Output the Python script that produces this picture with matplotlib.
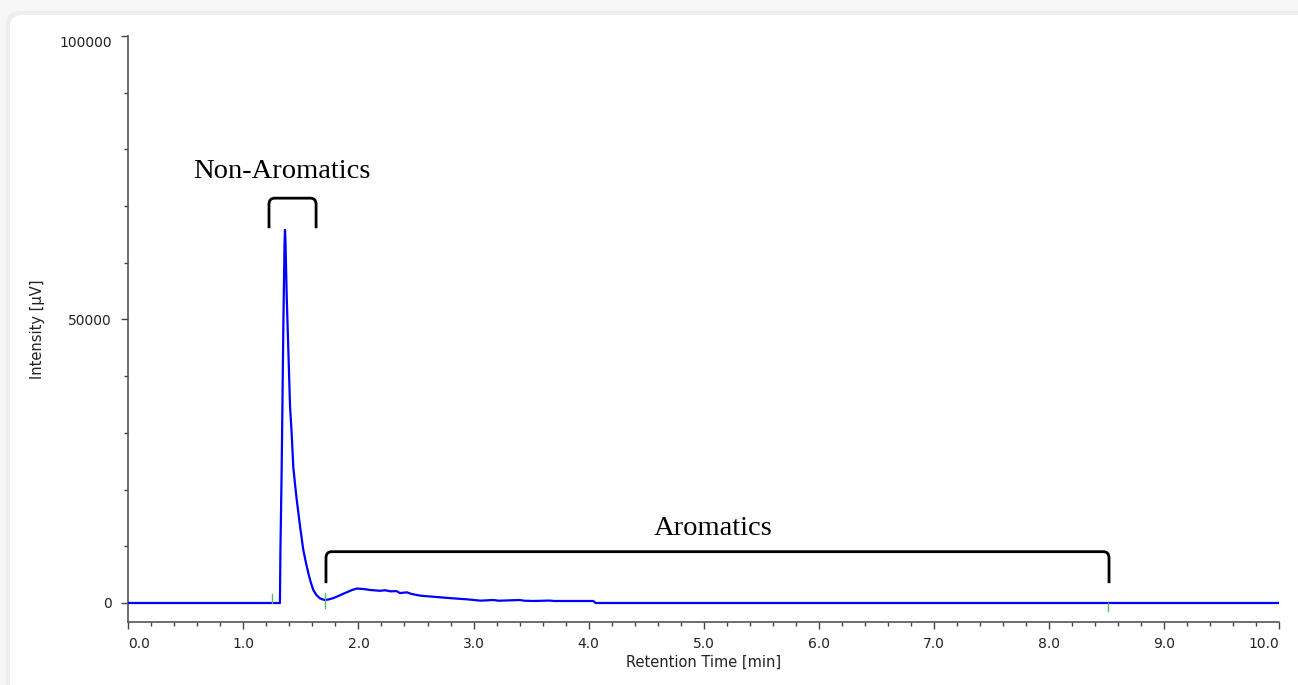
import matplotlib
matplotlib.use("Agg")
import matplotlib.pyplot as plt
from matplotlib.patches import FancyBboxPatch, PathPatch
from matplotlib.path import Path
import numpy as np

# ---------------- data ----------------
time_min = [0.0, 1.30, 1.318, 1.322, 1.333, 1.348, 1.358, 1.362, 1.366, 1.377,
            1.391, 1.406, 1.420, 1.434, 1.450, 1.464, 1.493, 1.521, 1.545,
            1.565, 1.585, 1.608, 1.635, 1.666, 1.690, 1.710, 1.740, 1.775,
            1.811, 1.860, 1.900, 1.940, 1.985, 2.05, 2.10, 2.188, 2.23, 2.28,
            2.33, 2.36, 2.42, 2.46, 2.535, 2.62, 2.71, 2.82, 2.94, 3.06,
            3.17, 3.22, 3.40, 3.44, 3.52, 3.66, 3.70, 3.81, 4.04, 4.06, 10.0]
intensity_uv = [0, 0, 0, 8800, 23400, 49300, 63500, 65800, 64000, 54000,
                44600, 34600, 29900, 24000, 20800, 18200, 13500, 9350, 7000,
                5240, 3700, 2290, 1400, 820, 620, 530, 620, 820,
                1100, 1550, 1900, 2250, 2550, 2450, 2300, 2150, 2250, 2050,
                2100, 1750, 1880, 1600, 1300, 1150, 1000, 820, 650, 410,
                530, 400, 530, 400, 350, 430, 350, 350, 350, 0, 0]

# integration markers (time, low, high)
marker_times = [1.25, 1.71, 8.51]
marker_low = [0, -900, -1400]
marker_high = [1600, 1760, 0]

# bracket annotations
bracket_labels = ["Non-Aromatics", "Aromatics"]
bracket_x_left = [1.223, 1.718]
bracket_x_right = [1.632, 8.52]
bracket_y_bottom = [66100, 3500]
bracket_y_top = [71400, 9050]
label_x = [1.332, 5.077]
label_y = [74900, 12000]

x_ticks = [0.0, 1.0, 2.0, 3.0, 4.0, 5.0, 6.0, 7.0, 8.0, 9.0, 10.0]
y_ticks = [0, 50000, 100000]

# ---------------- figure ----------------
W, H, DPI = 1298, 685, 100
fig = plt.figure(figsize=(W / DPI, H / DPI), dpi=DPI, facecolor="#f6f6f6")

# card with soft shadow
shadow = FancyBboxPatch((0.06, -0.5), 13.6, 7.24,
                        boxstyle="round,pad=0,rounding_size=0.14",
                        transform=fig.dpi_scale_trans, facecolor="#eeeeee",
                        edgecolor="none", zorder=0)
card = FancyBboxPatch((0.10, -0.5), 13.6, 7.2,
                      boxstyle="round,pad=0,rounding_size=0.12",
                      transform=fig.dpi_scale_trans, facecolor="white",
                      edgecolor="none", zorder=0)
fig.patches.extend([shadow, card])

left_px, right_px, top_px, bottom_px = 128.2, 1279.4, 36, 621.7
ax = fig.add_axes([left_px / W, (H - bottom_px) / H,
                   (right_px - left_px) / W, (bottom_px - top_px) / H])
ax.set_zorder(2)
ax.set_facecolor("none")

ax.plot(time_min, intensity_uv, color="#0000ff", lw=1.6, zorder=3,
        solid_joinstyle="round")

for t, lo, hi in zip(marker_times, marker_low, marker_high):
    ax.plot([t, t], [lo, hi], color="#5cb85c", lw=1.0, zorder=4)

ax.set_xlim(0, 10.0)
ax.set_ylim(-3300, 100000)

for s in ["top", "right"]:
    ax.spines[s].set_visible(False)
for s in ["left", "bottom"]:
    ax.spines[s].set_color("#555555")
    ax.spines[s].set_linewidth(1.2)

ax.set_xticks(x_ticks)
ax.set_xticklabels([f"{v:.1f}" for v in x_ticks])
ax.set_xticks(np.arange(0, 10.01, 0.2), minor=True)
ax.set_yticks(y_ticks)
ax.set_yticklabels([str(v) for v in y_ticks])
ax.set_yticks(np.arange(0, 100001, 10000), minor=True)

ax.tick_params(axis="both", which="major", length=4.8, width=1.0,
               color="#444444", labelsize=10, labelcolor="#222222")
ax.tick_params(axis="both", which="minor", length=2.6, width=1.0,
               color="#444444")
ax.tick_params(axis="x", which="major", pad=6)
ax.tick_params(axis="y", which="major", pad=7)

# shift end labels inward like the instrument software
xl = ax.get_xticklabels()
xl[0].set_horizontalalignment("left")
xl[-1].set_horizontalalignment("right")
yl = ax.get_yticklabels()
yl[-1].set_verticalalignment("top")

ax.set_xlabel("Retention Time [min]", fontsize=10.5, color="#222222", labelpad=3)
ax.set_ylabel("Intensity [µV]", fontsize=10.5, color="#222222", labelpad=10)

# brackets
rx, ry = 0.05, 1100
for lab, x0, x1, yb, yt, tx, ty in zip(bracket_labels, bracket_x_left,
                                       bracket_x_right, bracket_y_bottom,
                                       bracket_y_top, label_x, label_y):
    verts = [(x0, yb), (x0, yt - ry), (x0, yt), (x0 + rx, yt),
             (x1 - rx, yt), (x1, yt), (x1, yt - ry), (x1, yb)]
    codes = [Path.MOVETO, Path.LINETO, Path.CURVE3, Path.CURVE3,
             Path.LINETO, Path.CURVE3, Path.CURVE3, Path.LINETO]
    ax.add_patch(PathPatch(Path(verts, codes), facecolor="none",
                           edgecolor="black", lw=2.0, zorder=5,
                           capstyle="butt"))
    ax.text(tx, ty, lab, ha="center", va="baseline", fontsize=20.5,
            family="Liberation Serif", color="black", zorder=6)

fig.savefig("out.png", dpi=DPI, facecolor=fig.get_facecolor())
